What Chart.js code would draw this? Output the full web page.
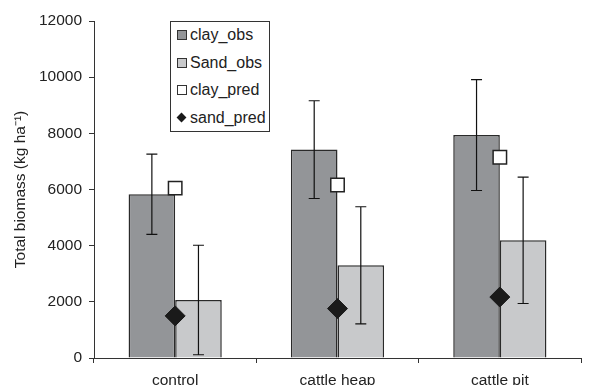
<!DOCTYPE html>
<html>
<head>
<meta charset="utf-8">
<script src="https://cdn.jsdelivr.net/npm/chart.js@4"></script>
<style>
  html, body { margin: 0; padding: 0; background: #fff; overflow: hidden; }
  #wrap { position: relative; width: 590px; height: 385px; overflow: hidden; }
  #legend {
    position: absolute; left: 170px; top: 21px; width: 98px; height: 109px;
    border: 1px solid #333; background: #fff;
    font-family: "Liberation Sans", Arial, sans-serif; font-size: 16px; color: #222;
  }
  .row { position: absolute; left: 0; height: 18px; line-height: 18px; }
  .row span.txt { position: absolute; left: 19px; top: 0; white-space: nowrap; }
  .mk { position: absolute; left: 6px; top: 4px; width: 8px; height: 8px; border: 1px solid #333; }
  .dia { position: absolute; left: 7px; top: 5px; width: 7px; height: 7px; background: #1a1a1a; transform: rotate(45deg); }
</style>
</head>
<body>
<div id="wrap">
  <canvas id="biomassChart" width="592" height="385"></canvas>
  <div id="legend">
    <div class="row" style="top:4px"><div class="mk" style="background:#939598"></div><span class="txt">clay_obs</span></div>
    <div class="row" style="top:32px"><div class="mk" style="background:#c8c9cb"></div><span class="txt">Sand_obs</span></div>
    <div class="row" style="top:59px"><div class="mk" style="background:#fff"></div><span class="txt">clay_pred</span></div>
    <div class="row" style="top:87px"><div class="dia"></div><span class="txt">sand_pred</span></div>
  </div>
</div>
<script>
const sites = ["control", "cattle heap", "cattle pit"];
const clayObs = [5830, 7420, 7940];
const clayObsErr = [1430, 1740, 1975];
const sandObs = [2065, 3300, 4190];
const sandObsErr = [1950, 2085, 2250];
const clayPred = [6050, 6160, 7150];
const sandPred = [1500, 1760, 2170];

Chart.defaults.font.family = "'Liberation Sans', Arial, sans-serif";
Chart.defaults.font.size = 15.5;
Chart.defaults.color = "#222";

// draws the +/- error whiskers on top of each observed bar
const errorBars = {
  id: "errorBars",
  afterDatasetsDraw(chart) {
    const ctx = chart.ctx;
    const y = chart.scales.y;
    const sets = [
      { idx: 0, vals: clayObs, err: clayObsErr },
      { idx: 1, vals: sandObs, err: sandObsErr },
    ];
    ctx.save();
    ctx.strokeStyle = "#111";
    ctx.lineWidth = 1.2;
    sets.forEach((s) => {
      chart.getDatasetMeta(s.idx).data.forEach((bar, i) => {
        const top = y.getPixelForValue(s.vals[i] + s.err[i]);
        const bot = y.getPixelForValue(s.vals[i] - s.err[i]);
        ctx.beginPath();
        ctx.moveTo(bar.x, top);
        ctx.lineTo(bar.x, bot);
        ctx.moveTo(bar.x - 5.5, top);
        ctx.lineTo(bar.x + 5.5, top);
        ctx.moveTo(bar.x - 5.5, bot);
        ctx.lineTo(bar.x + 5.5, bot);
        ctx.stroke();
      });
    });
    ctx.restore();
  },
};

new Chart(document.getElementById("biomassChart"), {
  type: "bar",
  data: {
    labels: sites,
    datasets: [
      {
        label: "clay_obs",
        data: clayObs,
        backgroundColor: "#939598",
        borderColor: "#2a2a2a",
        borderWidth: 1.5,
        order: 1,
      },
      {
        label: "Sand_obs",
        data: sandObs,
        backgroundColor: "#c8c9cb",
        borderColor: "#2a2a2a",
        borderWidth: 1.5,
        order: 1,
      },
      {
        type: "line",
        label: "clay_pred",
        data: clayPred,
        showLine: false,
        pointStyle: "rect",
        pointRadius: 9.5,
        pointBackgroundColor: "#fff",
        pointBorderColor: "#222",
        pointBorderWidth: 1.5,
        order: 0,
      },
      {
        type: "line",
        label: "sand_pred",
        data: sandPred,
        showLine: false,
        pointStyle: "rectRot",
        pointRadius: 10,
        pointBackgroundColor: "#1a1a1a",
        pointBorderColor: "#1a1a1a",
        pointBorderWidth: 1,
        order: 0,
      },
    ],
  },
  options: {
    responsive: false,
    animation: false,
    layout: { padding: { top: 21, left: 0, right: 0, bottom: 0 } },
    datasets: { bar: { categoryPercentage: 0.574, barPercentage: 1 } },
    plugins: { legend: { display: false }, tooltip: { enabled: false } },
    scales: {
      x: {
        grid: { drawOnChartArea: false, tickLength: 5, color: "#333" },
        border: { color: "#333", width: 1 },
        ticks: { padding: 8, color: "#222" },
        afterFit(scale) {
          scale.height = 27;
        },
      },
      y: {
        min: 0,
        max: 12000,
        ticks: {
          stepSize: 2000,
          padding: 7,
          color: "#222",
          callback: (v) => String(v),
        },
        grid: { drawOnChartArea: false, tickLength: 5, color: "#333" },
        border: { color: "#333", width: 1 },
        title: {
          display: true,
          text: "Total biomass (kg ha⁻¹)",
          padding: { top: 11, bottom: 0 },
          color: "#222",
        },
        afterFit(scale) {
          scale.width = 94;
        },
      },
    },
  },
  plugins: [errorBars],
});
</script>
</body>
</html>
